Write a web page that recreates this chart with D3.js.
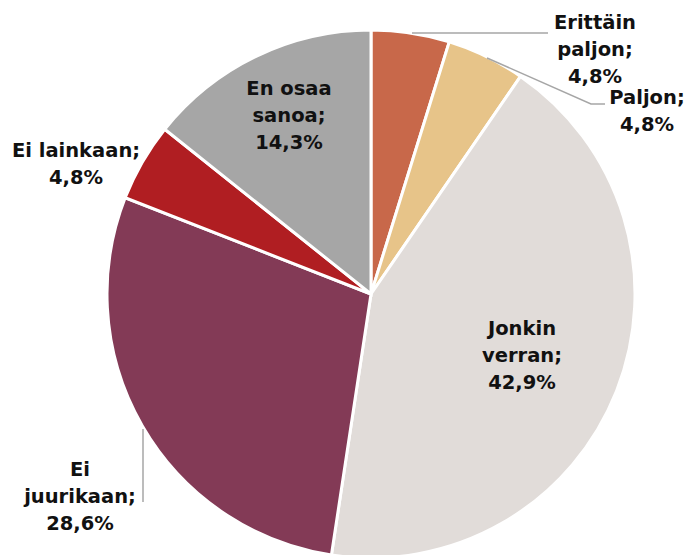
<!DOCTYPE html>
<html><head><meta charset="utf-8">
<script src="https://cdn.jsdelivr.net/npm/d3@7"></script>
<style>
html,body{margin:0;padding:0;background:#fff;}
svg{display:block;}
text{font-family:"DejaVu Sans",sans-serif;font-weight:bold;font-size:19.5px;fill:#111;}
</style></head>
<body><svg id="c" width="688" height="555"></svg>
<script>
const categories = ["Erittäin paljon", "Paljon", "Jonkin verran", "Ei juurikaan", "Ei lainkaan", "En osaa sanoa"];
const values = [4.8, 4.8, 42.9, 28.6, 4.8, 14.3];
const valueLabels = ["4,8%", "4,8%", "42,9%", "28,6%", "4,8%", "14,3%"];
const labelLines = [["Erittäin", "paljon;", "4,8%"], ["Paljon;", "4,8%"], ["Jonkin", "verran;", "42,9%"], ["Ei", "juurikaan;", "28,6%"], ["Ei lainkaan;", "4,8%"], ["En osaa", "sanoa;", "14,3%"]];
const colors = ["#C8684A", "#E7C489", "#E1DCD9", "#833A56", "#B01E22", "#A6A6A6"];

const svg = d3.select("#c");
const cx = 371, cy = 294, r = 264;
const g = svg.append("g").attr("transform", `translate(${cx},${cy})`);
const pie = d3.pie().value(d => d).sort(null);
const arcs = pie(values);
const arc = d3.arc().innerRadius(0).outerRadius(r);
const color = d3.scaleOrdinal().domain(d3.range(values.length)).range(colors);

g.selectAll("path.slice").data(arcs).enter().append("path")
  .attr("class", "slice")
  .attr("d", arc)
  .attr("fill", (d, i) => color(i))
  .attr("stroke", "#fff").attr("stroke-width", 3).attr("stroke-linejoin", "miter");

// label placements (absolute page coordinates of the first baseline, centered)
const labelPos = [[595, 29], [647, 104], [522, 335], [80, 476], [76, 157], [289, 95]];
const lh = 27;
labelLines.forEach((lines, i) => {
  const t = svg.append("text").attr("text-anchor", "middle");
  lines.forEach((s, j) => {
    t.append("tspan").attr("x", labelPos[i][0]).attr("y", labelPos[i][1] + j * lh).text(s);
  });
});

// leader lines
const leaders = [
  [[412, 33], [548, 33]],
  [[487, 58], [591, 104], [605, 104]],
  [[143, 429], [143, 502]]
];
const line = d3.line();
leaders.forEach(pts => {
  svg.append("path").attr("d", line(pts)).attr("fill", "none")
    .attr("stroke", "#A6A6A6").attr("stroke-width", 1.5);
});
</script></body></html>
